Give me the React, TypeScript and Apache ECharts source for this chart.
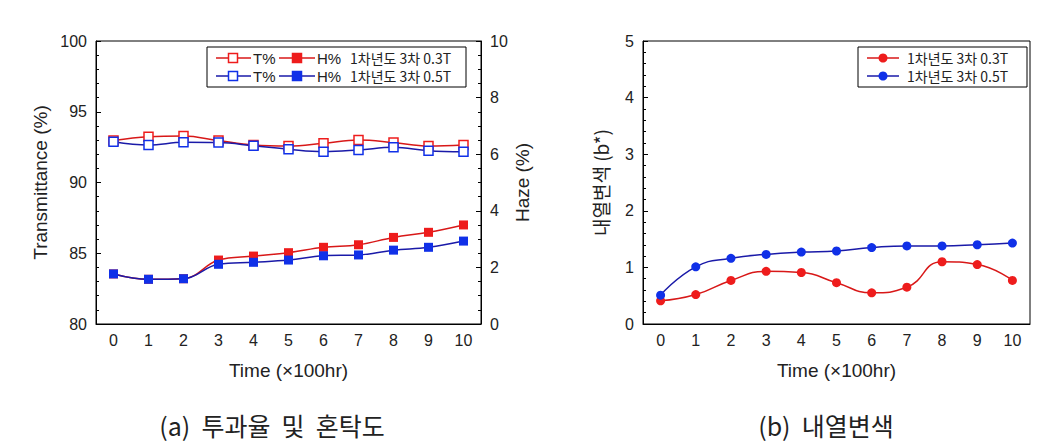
import React, { useEffect, useRef } from "react";
import * as echarts from "echarts";

const xCats = ["0", "1", "2", "3", "4", "5", "6", "7", "8", "9", "10"];
const tRed = [92.96, 93.24, 93.29, 92.96, 92.65, 92.58, 92.77, 93.0, 92.82, 92.58, 92.65];
const tBlue = [92.88, 92.65, 92.84, 92.82, 92.6, 92.35, 92.18, 92.3, 92.49, 92.25, 92.18];
const hRed = [1.77, 1.58, 1.6, 2.26, 2.4, 2.52, 2.71, 2.8, 3.06, 3.24, 3.5];
const hBlue = [1.77, 1.58, 1.6, 2.11, 2.18, 2.26, 2.41, 2.44, 2.61, 2.71, 2.93];
const bRed = [0.41, 0.52, 0.77, 0.93, 0.91, 0.73, 0.55, 0.65, 1.1, 1.05, 0.77];
const bBlue = [0.51, 1.01, 1.16, 1.23, 1.27, 1.29, 1.35, 1.38, 1.38, 1.4, 1.43];

const label03 = "1차년도 3차 0.3T";
const label05 = "1차년도 3차 0.5T";
const captionA = "(a)  투과율  및  혼탁도";
const captionB = "(b)  내열변색";

const RED_LINE = "#d81818";
const RED_MK = "#ee1c1c";
const BLUE_LINE = "#1a1aa8";
const BLUE_MK = "#1030e8";
const TXT = "#222";
const SANS = "'Liberation Sans', Arial, sans-serif";
const KR = "'Noto Sans CJK KR', sans-serif";

export default function App() {
  const ref = useRef<HTMLDivElement>(null);
  useEffect(() => {
    if (!ref.current) return;
    const chart = echarts.init(ref.current, null, { renderer: "svg" });

    const xAxisBase = (gridIndex: number) => ({
      type: "category",
      gridIndex,
      data: xCats,
      boundaryGap: true,
      name: "Time (×100hr)",
      nameLocation: "middle",
      nameGap: 37,
      nameTextStyle: { fontSize: 19, fontFamily: SANS, color: TXT },
      axisLine: { lineStyle: { color: "#000", width: 1 } },
      axisTick: { inside: true, alignWithLabel: true, length: 5, lineStyle: { color: "#000" } },
      axisLabel: { fontSize: 16, fontFamily: SANS, color: TXT, margin: 8 },
      splitLine: { show: false },
    });

    const yBase = {
      type: "value",
      nameLocation: "middle",
      nameRotate: 90,
      nameTextStyle: { fontSize: 19, fontFamily: SANS, color: TXT },
      axisLine: { show: true, lineStyle: { color: "#000", width: 1 } },
      axisTick: { show: true, inside: true, length: 5, lineStyle: { color: "#000" } },
      minorTick: { show: true, length: 3, lineStyle: { color: "#000" } },
      axisLabel: { fontSize: 16, fontFamily: SANS, color: TXT, margin: 9 },
      splitLine: { show: false },
      minorSplitLine: { show: false },
    };

    const sq = (x: number, y: number, fill: string, stroke: string) => ({
      type: "rect",
      shape: { x: x - 4.5, y: y - 4.5, width: 9, height: 9 },
      style: { fill, stroke, lineWidth: 1.5 },
      z: 101,
    });
    const ln = (x1: number, x2: number, y: number, c: string) => ({
      type: "line",
      shape: { x1, y1: y, x2, y2: y },
      style: { stroke: c, lineWidth: 1.5 },
      z: 100,
    });
    const txt = (x: number, y: number, text: string, size: number, family: string, align = "left") => ({
      type: "text",
      x,
      y,
      z: 102,
      style: {
        text,
        fontSize: size,
        fontFamily: family,
        fill: TXT,
        align,
        verticalAlign: "middle",
        textAlign: align,
        textVerticalAlign: "middle",
      },
    });

    const r1 = 58;
    const r2 = 76;

    const option = {
      animation: false,
      backgroundColor: "#fff",
      grid: [
        { left: 96, top: 41, width: 385, height: 283, show: true, borderColor: "#000", borderWidth: 1, backgroundColor: "transparent" },
        { left: 643, top: 41, width: 387, height: 283, show: true, borderColor: "#000", borderWidth: 1, backgroundColor: "transparent" },
      ],
      xAxis: [xAxisBase(0), xAxisBase(1)],
      yAxis: [
        {
          ...yBase,
          gridIndex: 0,
          min: 80,
          max: 100,
          interval: 5,
          minorTick: { ...yBase.minorTick, splitNumber: 5 },
          name: "Transmittance (%)",
          nameGap: 46,
        },
        {
          ...yBase,
          gridIndex: 0,
          position: "right",
          min: 0,
          max: 10,
          interval: 2,
          minorTick: { ...yBase.minorTick, splitNumber: 4 },
          name: "Haze (%)",
          nameGap: 32,
        },
        {
          ...yBase,
          gridIndex: 1,
          min: 0,
          max: 5,
          interval: 1,
          minorTick: { ...yBase.minorTick, splitNumber: 5 },
          name: "내열변색 (b*)",
          nameGap: 33,
          nameTextStyle: { fontSize: 19, fontFamily: KR, color: TXT },
        },
      ],
      series: [
        {
          name: "T% 0.3T",
          type: "line",
          xAxisIndex: 0,
          yAxisIndex: 0,
          data: tRed,
          smooth: 0.4,
          symbol: "rect",
          symbolSize: 9,
          lineStyle: { color: RED_LINE, width: 1.5 },
          itemStyle: { color: "#fff", borderColor: RED_MK, borderWidth: 1.5 },
        },
        {
          name: "T% 0.5T",
          type: "line",
          xAxisIndex: 0,
          yAxisIndex: 0,
          data: tBlue,
          smooth: 0.4,
          symbol: "rect",
          symbolSize: 9,
          lineStyle: { color: BLUE_LINE, width: 1.5 },
          itemStyle: { color: "#fff", borderColor: BLUE_MK, borderWidth: 1.5 },
        },
        {
          name: "H% 0.3T",
          type: "line",
          xAxisIndex: 0,
          yAxisIndex: 1,
          data: hRed,
          smooth: 0.4,
          symbol: "rect",
          symbolSize: 9,
          lineStyle: { color: RED_LINE, width: 1.5 },
          itemStyle: { color: RED_MK },
        },
        {
          name: "H% 0.5T",
          type: "line",
          xAxisIndex: 0,
          yAxisIndex: 1,
          data: hBlue,
          smooth: 0.4,
          symbol: "rect",
          symbolSize: 9,
          lineStyle: { color: BLUE_LINE, width: 1.5 },
          itemStyle: { color: BLUE_MK },
        },
        {
          name: label03,
          type: "line",
          xAxisIndex: 1,
          yAxisIndex: 2,
          data: bRed,
          smooth: 0.5,
          symbol: "circle",
          symbolSize: 9,
          lineStyle: { color: RED_LINE, width: 1.5 },
          itemStyle: { color: RED_MK },
        },
        {
          name: label05,
          type: "line",
          xAxisIndex: 1,
          yAxisIndex: 2,
          data: bBlue,
          smooth: 0.5,
          symbol: "circle",
          symbolSize: 9,
          lineStyle: { color: BLUE_LINE, width: 1.5 },
          itemStyle: { color: BLUE_MK },
        },
      ],
      graphic: [
        // left legend
        {
          type: "rect",
          shape: { x: 207, y: 47, width: 259, height: 40 },
          style: { fill: "#fff", stroke: "#000", lineWidth: 1 },
          z: 99,
        },
        ln(216, 251, r1, RED_LINE),
        sq(233, r1, "#fff", RED_MK),
        txt(253, r1, "T%", 15, SANS),
        ln(279, 315, r1, RED_LINE),
        sq(297, r1, RED_MK, RED_MK),
        txt(317, r1, "H%", 15, SANS),
        txt(350, r1, label03, 14, KR),
        ln(216, 251, r2, BLUE_LINE),
        sq(233, r2, "#fff", BLUE_MK),
        txt(253, r2, "T%", 15, SANS),
        ln(279, 315, r2, BLUE_LINE),
        sq(297, r2, BLUE_MK, BLUE_MK),
        txt(317, r2, "H%", 15, SANS),
        txt(350, r2, label05, 14, KR),
        // right legend
        {
          type: "rect",
          shape: { x: 858, y: 47, width: 169, height: 40 },
          style: { fill: "#fff", stroke: "#000", lineWidth: 1 },
          z: 99,
        },
        ln(867, 899, r1, RED_LINE),
        { type: "circle", shape: { cx: 883, cy: r1, r: 4.5 }, style: { fill: RED_MK }, z: 101 },
        txt(907, r1, label03, 14, KR),
        ln(867, 899, r2, BLUE_LINE),
        { type: "circle", shape: { cx: 883, cy: r2, r: 4.5 }, style: { fill: BLUE_MK }, z: 101 },
        txt(907, r2, label05, 14, KR),
        // captions
        txt(272, 425, captionA, 25, KR, "center"),
        txt(826, 425, captionB, 25, KR, "center"),
      ],
    };

    chart.setOption(option as any);
    return () => chart.dispose();
  }, []);

  return (
    <div
      ref={ref}
      style={{ position: "fixed", left: 0, top: 0, width: 1045, height: 448, background: "#fff" }}
    />
  );
}
